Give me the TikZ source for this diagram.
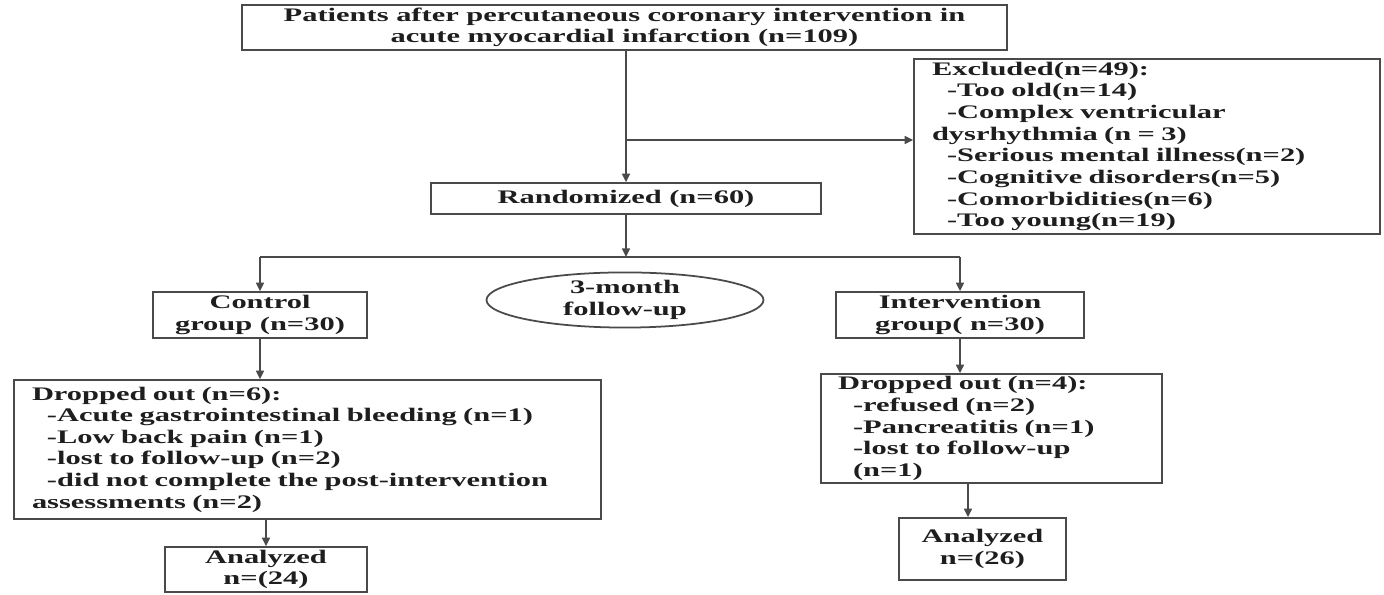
\documentclass[tikz,border=0pt]{standalone}
\usepackage{fontspec}
\setmainfont{Liberation Serif}[FakeStretch=1.59]
\usetikzlibrary{arrows.meta,positioning,calc,shapes.geometric}
\definecolor{LineGray}{HTML}{4A4A4A}
\definecolor{TextDark}{HTML}{1E1E1E}
\newcommand{\ind}{\hspace*{0.3cm}}

\begin{document}
\begin{tikzpicture}[font=\bfseries\fontsize{10.9}{12.3}\selectfont,text=TextDark,>={Triangle[length=1.7mm,width=1.6mm]},box/.style={draw=LineGray,line width=1pt,inner sep=0pt,align=center},listbox/.style={draw=LineGray,line width=1pt,inner xsep=0.36cm,inner ysep=0pt,align=left},arr/.style={->,draw=LineGray,line width=0.9pt}]
\useasboundingbox (0,0) rectangle (27.68,11.9);
\fill[white] (0,0) rectangle (27.68,11.9);
% enrolment
\node[box,minimum width=15.3cm,minimum height=0.9cm] (pat) at (12.49,11.35){Patients after percutaneous coronary intervention in\\acute myocardial infarction (n=109)};
\node[listbox,text width=8.6cm,minimum height=3.5cm] (exc) at (22.94,8.97){Excluded(n=49):\\\ind-Too old(n=14)\\\ind-Complex ventricular\\dysrhythmia (n = 3)\\\ind-Serious mental illness(n=2)\\\ind-Cognitive disorders(n=5)\\\ind-Comorbidities(n=6)\\\ind-Too young(n=19)};
\node[box,minimum width=7.8cm,minimum height=0.62cm] (rnd) at (12.52,7.93){Randomized (n=60)};
% allocation
\node[box,minimum width=4.28cm,minimum height=0.92cm] (ctl) at (5.2,5.6){Control\\group (n=30)};
\node[draw=LineGray,line width=1pt,ellipse,minimum width=5.54cm,minimum height=1.0cm,inner sep=0pt,align=center] (fu) at (12.5,5.9){3-month\\follow-up};
\node[box,minimum width=4.96cm,minimum height=0.92cm] (int) at (19.2,5.6){Intervention\\group( n=30)};
% follow-up
\node[listbox,text width=11.02cm,minimum height=2.78cm] (dr6) at (6.15,2.91){Dropped out (n=6):\\\ind-Acute gastrointestinal bleeding (n=1)\\\ind-Low back pain (n=1)\\\ind-lost to follow-up (n=2)\\\ind-did not complete the post-intervention\\assessments (n=2)};
\node[listbox,inner xsep=0.34cm,text width=6.14cm,minimum height=2.18cm] (dr4) at (19.83,3.33){Dropped out (n=4):\\\ind-refused (n=2)\\\ind-Pancreatitis (n=1)\\\ind-lost to follow-up\\\ind(n=1)};
% analysis
\node[box,minimum width=4.04cm,minimum height=0.9cm] (an24) at (5.32,0.51){Analyzed\\n=(24)};
\node[box,minimum width=3.34cm,minimum height=1.24cm] (an26) at (19.65,0.92){Analyzed\\n=(26)};
% connectors
\coordinate (ex) at (12.52,9.1);
\coordinate (br) at (12.52,6.76);
\coordinate (a26) at ([xshift=-0.29cm]an26.north);
\draw[arr] (rnd.north |- pat.south) -- (rnd.north);
\draw[arr] (ex) -- (ex -| exc.west);
\draw[arr] (rnd.south) -- (br);
\draw[LineGray,line width=0.9pt] (br -| ctl.north) -- (br -| int.north);
\draw[arr] (br -| ctl.north) -- (ctl.north);
\draw[arr] (br -| int.north) -- (int.north);
\draw[arr] (ctl.south) -- (ctl.south |- dr6.north);
\draw[arr] (an24.north |- dr6.south) -- (an24.north);
\draw[arr] (int.south) -- (int.south |- dr4.north);
\draw[arr] (a26 |- dr4.south) -- (a26);
\end{tikzpicture}
\end{document}
